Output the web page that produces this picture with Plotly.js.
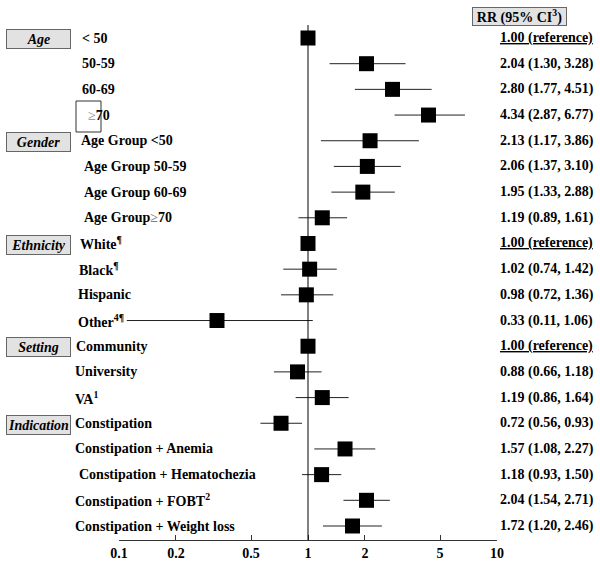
<!DOCTYPE html>
<html>
<head>
<meta charset="utf-8">
<script src="https://cdn.plot.ly/plotly-3.0.1.min.js"></script>
<style>html,body{margin:0;padding:0;background:#fff;}#chart{width:600px;height:564px;}</style>
</head>
<body>
<div id="chart"></div>
<script>
// ---- data ----
var labels = [
  "< 50", "50-59", "60-69", "<span style='font-weight:normal;color:#888'>≥</span>70",
  "Age Group <50", "Age Group 50-59", "Age Group 60-69", "Age Group<span style='font-weight:normal;color:#666'>≥</span>70",
  "White<sup>¶</sup>", "Black<sup>¶</sup>", "Hispanic", "Other<sup>4¶</sup>",
  "Community", "University", "VA<sup>1</sup>",
  "Constipation", "Constipation + Anemia", "Constipation + Hematochezia", "Constipation + FOBT<sup>2</sup>", "Constipation + Weight loss"
];
var rr    = [1.00, 2.04, 2.80, 4.34, 2.13, 2.06, 1.95, 1.19, 1.00, 1.02, 0.98, 0.33, 1.00, 0.88, 1.19, 0.72, 1.57, 1.18, 2.04, 1.72];
var lo    = [1.00, 1.30, 1.77, 2.87, 1.17, 1.37, 1.33, 0.89, 1.00, 0.74, 0.72, 0.11, 1.00, 0.66, 0.86, 0.56, 1.08, 0.93, 1.54, 1.20];
var hi    = [1.00, 3.28, 4.51, 6.77, 3.86, 3.10, 2.88, 1.61, 1.00, 1.42, 1.36, 1.06, 1.00, 1.18, 1.64, 0.93, 2.27, 1.50, 2.71, 2.46];
var isRef = [true, false, false, false, false, false, false, false, true, false, false, false, true, false, false, false, false, false, false, false];
var groups = ["Age", "Gender", "Ethnicity", "Setting", "Indication"];
var groupRows = [0, 4, 8, 12, 15];
var tickVals = [0.1, 0.2, 0.5, 1, 2, 5, 10];
var tickText = ["0.1", "0.2", "0.5", "1", "2", "5", "10"];
var header = "RR (95% CI<sup>3</sup>)";

// ---- layout helpers ----
var W = 600, H = 564;
var L = 119, R = 497, T = 25, B = 540;
function px(x){ return (x - L) / (R - L); }
function py(y){ return (B - y) / (B - T); }
var labelX = [80,80,80,86, 79,82,82,82, 78,77,76,76, 74,73,73, 73,73,77,73,73];
var FONT = "Liberation Serif, Times New Roman, serif";

var n = rr.length;
var ys = rr.map(function(_, i){ return i; });

var trace = {
  type: "scatter", mode: "markers",
  x: rr, y: ys,
  marker: {symbol: "square", size: 15, color: "#000"},
  error_x: {
    type: "data", symmetric: false,
    array: hi.map(function(h, i){ return h - rr[i]; }),
    arrayminus: lo.map(function(l, i){ return rr[i] - l; }),
    color: "#222", thickness: 1, width: 0
  },
  hoverinfo: "skip", showlegend: false, cliponaxis: false
};

var annotations = [];
for (var i = 0; i < n; i++) {
  annotations.push({
    xref: "paper", yref: "y", x: px(labelX[i]), y: i, xanchor: "left", yanchor: "middle",
    text: "<b>" + labels[i] + "</b>", showarrow: false,
    font: {family: FONT, size: 14, color: "#000"}
  });
  var t = isRef[i] ? "<u>1.00 (reference)</u>" :
    rr[i].toFixed(2) + " (" + lo[i].toFixed(2) + ", " + hi[i].toFixed(2) + ")";
  annotations.push({
    xref: "paper", yref: "y", x: px(498), y: i, xanchor: "left", yanchor: "middle",
    text: "<b>" + t + "</b>", showarrow: false,
    font: {family: FONT, size: 14, color: "#000"}
  });
}
for (var g = 0; g < groups.length; g++) {
  annotations.push({
    xref: "paper", yref: "y", x: px(6), y: groupRows[g] + 0.05, xanchor: "left", yanchor: "middle",
    text: "<b><i>" + groups[g] + "</i></b>", showarrow: false,
    width: 63, height: 18, align: "center", valign: "middle",
    bgcolor: "#e2e2e2", bordercolor: "#666", borderwidth: 1, borderpad: 0,
    font: {family: FONT, size: 14, color: "#000"}
  });
}
annotations.push({
  xref: "paper", yref: "paper", x: px(519.5), y: py(16), xanchor: "center", yanchor: "middle",
  text: "<b>" + header + "</b>", showarrow: false,
  width: 93, height: 17, bgcolor: "#e2e2e2", bordercolor: "#666", borderwidth: 1, borderpad: 0,
  font: {family: FONT, size: 14, color: "#000"}
});

var shapes = [
  {type: "line", xref: "x", yref: "paper", x0: 1, x1: 1, y0: 0, y1: 1, line: {color: "#000", width: 1}},
  {type: "rect", xref: "paper", yref: "paper", x0: px(76), x1: px(101), y0: py(132), y1: py(101),
   line: {color: "#333", width: 1}, fillcolor: "rgba(0,0,0,0)"}
];

var layout = {
  width: W, height: H,
  margin: {l: L, r: W - R, t: T, b: H - B, pad: 0},
  paper_bgcolor: "#fff", plot_bgcolor: "#fff",
  font: {family: FONT, size: 14, color: "#000"},
  xaxis: {
    type: "log", range: [-1, 1], tickvals: tickVals, ticktext: tickText,
    ticks: "inside", ticklen: 5, tickcolor: "#333", tickwidth: 1,
    showline: true, linecolor: "#333", linewidth: 1, showgrid: false, zeroline: false,
    tickfont: {family: FONT, size: 14, color: "#000", weight: "bold"}, fixedrange: true
  },
  yaxis: {
    range: [19 + (B - 526) / 25.68, -(38 - T) / 25.68],
    visible: false, showgrid: false, zeroline: false, fixedrange: true
  },
  annotations: annotations, shapes: shapes, showlegend: false
};

Plotly.newPlot("chart", [trace], layout, {staticPlot: true, displayModeBar: false});
</script>
</body>
</html>
